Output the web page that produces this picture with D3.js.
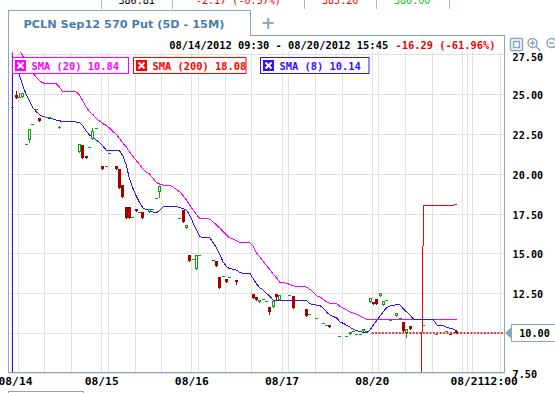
<!DOCTYPE html>
<html>
<head>
<meta charset="utf-8">
<script src="https://cdn.jsdelivr.net/npm/d3@7"></script>
<style>
  html, body { margin: 0; padding: 0; background: #fff; }
  svg { display: block; }
</style>
</head>
<body>
<div id="chart"></div>
<script>
/* Data */
/* ==== */

var quoteCells = ["386.81", "-2.17 (-0.57%)", "385.20", "386.00"];
var tabTitle = "PCLN Sep12 570 Put (5D - 15M)";
var rangeText = "08/14/2012 09:30 - 08/20/2012 15:45";
var changeText = "-16.29 (-61.96%)";

var dayLabels = ["08/14", "08/15", "08/16", "08/17", "08/20"];
var gridTimes = ["09:30", "10:00", "12:00", "14:00"];
var futureTicks = [[135, ""], [136.5, "08/21"], [138, ""], [146.5, "12:00"]];
var priceTicks = [27.5, 25, 22.5, 20, 17.5, 15, 12.5, 10, 7.5];
var lastPrice = 10.00;

var legendNames = ["SMA (20)", "SMA (200)", "SMA (8)"];
var legendValues = [10.84, 18.08, 10.14];

// 15 minute bars: [slot, open, high, low, close]
var candles = [
  [0, 24.17, 24.17, 24.17, 24.17], [1, 24.94, 25.21, 24.77, 24.77], [2, 24.79, 25.05, 24.79, 24.79],
  [3, 24.79, 25.05, 24.79, 25.05], [4, 21.85, 21.85, 21.85, 21.85], [5, 22.12, 22.81, 21.97, 22.81],
  [6, 23.14, 23.14, 23.14, 23.14], [7, 24.06, 24.06, 24.06, 24.06], [8, 23.52, 23.52, 23.33, 23.33],
  [10, 23.56, 23.56, 23.56, 23.56], [11, 23.56, 23.56, 23.56, 23.56], [14, 22.90, 23.00, 22.90, 22.95],
  [20, 21.34, 21.87, 21.34, 21.87], [21, 21.80, 21.80, 20.97, 20.97], [22, 21.09, 21.09, 20.97, 20.97],
  [23, 21.68, 21.68, 21.68, 21.68], [24, 22.16, 22.89, 22.16, 22.68], [25, 22.89, 22.89, 22.89, 22.89],
  [27, 20.48, 20.48, 20.31, 20.31], [28, 20.48, 20.48, 20.48, 20.48], [29, 21.28, 21.28, 21.28, 21.28],
  [31, 20.48, 20.48, 20.31, 20.31], [32, 20.30, 20.30, 19.10, 19.10], [33, 19.29, 19.29, 18.56, 18.56],
  [34, 17.91, 17.91, 17.22, 17.22], [35, 17.91, 17.91, 17.22, 17.22], [36, 17.28, 17.28, 17.28, 17.28],
  [37, 17.78, 17.78, 17.66, 17.66], [38, 17.59, 17.59, 17.59, 17.59], [39, 17.59, 17.59, 17.22, 17.22],
  [41, 17.59, 17.78, 17.59, 17.78], [42, 17.78, 17.78, 17.78, 17.78], [43, 18.47, 18.47, 18.47, 18.47],
  [44, 18.85, 19.23, 18.54, 19.23], [50, 17.22, 17.22, 17.22, 17.22], [51, 17.72, 17.72, 16.96, 16.96],
  [52, 16.57, 16.77, 16.57, 16.77], [53, 14.89, 14.89, 14.52, 14.52], [54, 14.62, 14.62, 14.62, 14.62],
  [55, 14.03, 14.89, 14.03, 14.89], [56, 14.89, 14.89, 14.89, 14.89], [60, 14.60, 14.60, 14.56, 14.56],
  [61, 14.52, 14.52, 14.20, 14.20], [62, 13.51, 13.51, 12.82, 12.82], [63, 13.55, 13.55, 13.55, 13.55],
  [64, 13.39, 13.39, 13.20, 13.20], [65, 13.51, 13.51, 13.51, 13.51], [67, 13.32, 13.32, 13.10, 13.20],
  [72, 12.44, 12.44, 12.19, 12.19], [73, 12.25, 12.25, 12.07, 12.07], [74, 11.94, 12.07, 11.94, 12.07],
  [75, 12.13, 12.13, 12.13, 12.13], [76, 12.00, 12.00, 12.00, 12.00], [77, 11.63, 11.63, 11.19, 11.31],
  [78, 11.63, 12.00, 11.63, 12.00], [79, 12.44, 12.44, 12.13, 12.25], [80, 12.07, 12.38, 12.07, 12.38],
  [83, 12.38, 12.38, 12.38, 12.38], [84, 12.32, 12.32, 11.56, 11.56], [88, 11.49, 11.49, 11.06, 11.06],
  [89, 11.19, 11.19, 11.19, 11.19], [91, 10.94, 10.94, 10.94, 10.94], [93, 10.62, 10.62, 10.62, 10.62],
  [94, 10.50, 10.50, 10.50, 10.50], [95, 10.50, 10.50, 10.37, 10.37], [98, 9.80, 9.80, 9.80, 9.80],
  [100, 9.80, 9.80, 9.80, 9.80], [101, 9.93, 10.06, 9.93, 10.06], [102, 10.12, 10.12, 10.12, 10.12],
  [103, 9.93, 9.93, 9.93, 9.93], [104, 9.93, 9.93, 9.93, 9.93], [105, 10.12, 10.25, 10.12, 10.25],
  [106, 10.12, 10.12, 10.12, 10.12], [107, 11.94, 12.19, 11.94, 12.19], [108, 11.94, 11.94, 11.81, 11.81],
  [109, 12.13, 12.13, 11.81, 11.81], [110, 12.31, 12.50, 12.31, 12.50], [111, 11.75, 12.00, 11.75, 12.00],
  [112, 12.07, 12.07, 12.07, 12.07], [113, 10.81, 10.81, 10.81, 10.81], [115, 11.06, 11.25, 11.06, 11.25],
  [116, 10.94, 10.94, 10.94, 10.94], [117, 10.69, 10.69, 10.12, 10.12], [118, 10.00, 10.25, 9.74, 10.25],
  [119, 10.44, 10.44, 10.25, 10.25], [123, 10.50, 10.50, 10.50, 10.50], [127, 9.93, 9.93, 9.93, 9.93],
  [130, 10.12, 10.12, 10.12, 10.12], [131, 9.95, 9.95, 9.91, 9.91], [133, 10.12, 10.12, 10.00, 10.00]
];

// moving averages: [slot, value]
var sma20 = [
  [0, 0], [0, 28.6], [1, 28.2], [2, 27.8], [3, 27.4], [4, 27.0], [5, 26.64], [6, 26.33], [7, 26.08],
  [8, 25.84], [9, 25.71], [10, 25.65], [13, 25.65], [14, 25.45], [15, 25.14], [19, 25.14], [20, 24.95],
  [21, 24.57], [22, 24.19], [23, 23.91], [24, 23.72], [25, 23.47], [26, 23.31], [27, 23.15], [28, 23.03],
  [29, 22.87], [30, 22.66], [31, 22.49], [32, 22.21], [33, 21.93], [34, 21.68], [35, 21.36], [36, 21.08],
  [37, 20.83], [38, 20.58], [39, 20.30], [40, 20.11], [41, 19.98], [42, 19.73], [43, 19.45], [44, 19.35],
  [45, 19.29], [47, 19.27], [48, 19.16], [49, 19.01], [50, 18.87], [51, 18.63], [52, 18.35], [53, 18.03],
  [54, 17.72], [55, 17.44], [56, 17.19], [59, 17.15], [60, 16.97], [61, 16.78], [62, 16.59], [63, 16.37],
  [64, 16.15], [65, 15.96], [66, 15.89], [67, 15.80], [68, 15.68], [71, 15.67], [72, 15.43], [73, 15.02],
  [74, 14.77], [75, 14.49], [76, 14.23], [77, 13.98], [78, 13.70], [79, 13.45], [80, 13.17], [82, 13.12],
  [83, 13.04], [84, 12.95], [88, 12.88], [89, 12.73], [90, 12.57], [91, 12.32], [92, 12.27], [93, 12.10],
  [94, 11.96], [95, 11.86], [97, 11.85], [98, 11.66], [99, 11.56], [100, 11.44], [101, 11.31], [102, 11.25],
  [103, 11.16], [104, 11.06], [105, 10.97], [106, 10.85], [133, 10.84]
];

var sma200 = [[122, 0], [123, 18.02], [132, 18.02], [133, 18.08]];

var sma8 = [
  [0, 0], [0, 27.4], [1, 26.77], [2, 26.20], [3, 25.54], [4, 25.00], [5, 24.57], [6, 24.16], [7, 23.91],
  [8, 23.72], [9, 23.60], [10, 23.53], [11, 23.47], [12, 23.44], [13, 23.37], [14, 23.34], [15, 23.25],
  [19, 23.25], [20, 23.22], [21, 23.00], [22, 22.68], [23, 22.43], [24, 22.27], [25, 22.12], [26, 21.96],
  [27, 21.74], [28, 21.49], [29, 21.43], [32, 21.43], [33, 21.13], [34, 20.55], [35, 19.67], [36, 19.08],
  [37, 18.60], [38, 18.18], [39, 17.86], [40, 17.74], [41, 17.72], [42, 17.59], [43, 17.55], [44, 17.68],
  [45, 17.91], [46, 17.93], [49, 17.93], [50, 17.89], [51, 17.80], [52, 17.72], [53, 17.41], [54, 16.92],
  [55, 16.46], [56, 16.04], [57, 16.00], [59, 16.00], [60, 15.67], [61, 15.35], [62, 14.95], [63, 14.45],
  [64, 14.17], [65, 14.03], [66, 14.00], [67, 13.95], [68, 13.80], [69, 13.75], [71, 13.75], [72, 13.42],
  [73, 13.07], [74, 12.84], [75, 12.70], [76, 12.49], [77, 12.29], [78, 12.07], [79, 12.02], [88, 12.02],
  [89, 11.83], [90, 11.78], [91, 11.75], [92, 11.72], [93, 11.56], [94, 11.31], [95, 11.12], [96, 11.03],
  [97, 10.94], [98, 10.68], [99, 10.60], [100, 10.47], [101, 10.36], [102, 10.23], [103, 10.15], [104, 10.08],
  [105, 10.04], [106, 10.01], [107, 10.18], [108, 10.50], [109, 10.78], [110, 11.06], [111, 11.34],
  [112, 11.60], [113, 11.69], [114, 11.72], [115, 11.78], [116, 11.75], [117, 11.50], [118, 11.31],
  [119, 11.12], [120, 10.87], [121, 10.85], [125, 10.83], [126, 10.81], [127, 10.50], [128, 10.46],
  [129, 10.45], [130, 10.34], [131, 10.28], [132, 10.23], [133, 10.14]
];


/* Setup */
/* ===== */

var width = 555,
    height = 393,
    mono = "'DejaVu Sans Mono', monospace",
    frame = '#87a7c0',
    gridColor = '#e0e0e0',
    upColor = '#0ea00e',
    downColor = '#a30000',
    smaColors = ['#ff00ff', '#ff0000', '#3010ff'];

var plot = {left: 8.5, right: 504.5, top: 52, bottom: 372.7};
var slotsPerDay = 27;

var svg = d3.select('#chart').append('svg')
    .attr('width', width)
    .attr('height', height)
    .style('font-family', mono);

// one slot = one 15 minute bar
var x = d3.scaleLinear()
    .domain([0, 148])
    .range([11, 11 + 148 * 3.34]);

var y = d3.scaleLinear()
    .domain([7.5, 27.5])
    .range([372.7, 54.3]);

function slotOf(day, time) {
  var p = time.split(':');
  return day * slotsPerDay + ((+p[0] * 60 + +p[1]) - 570) / 15;
}

var svgDefs = svg.append('defs');
svgDefs.append('clipPath').attr('id', 'clip')
  .append('rect')
    .attr('x', plot.left + 0.5)
    .attr('y', plot.top)
    .attr('width', plot.right - plot.left - 0.5)
    .attr('height', plot.bottom - plot.top);


/* Grid */
/* ==== */

var gridSlots = [];
dayLabels.forEach(function(d, i) {
  gridTimes.forEach(function(t) { gridSlots.push(slotOf(i, t)); });
});
futureTicks.forEach(function(t) { gridSlots.push(t[0]); });

var grid = svg.append('g').attr('shape-rendering', 'crispEdges');

grid.selectAll('.vgrid')
  .data(gridSlots)
  .enter().append('line')
    .attr('x1', function(d) { return Math.round(x(d)) + 0.5; })
    .attr('x2', function(d) { return Math.round(x(d)) + 0.5; })
    .attr('y1', plot.top)
    .attr('y2', plot.bottom)
    .attr('stroke', gridColor);

grid.selectAll('.hgrid')
  .data(priceTicks)
  .enter().append('line')
    .attr('x1', plot.left)
    .attr('x2', plot.right)
    .attr('y1', function(d) { return Math.round(y(d)) + 0.5; })
    .attr('y2', function(d) { return Math.round(y(d)) + 0.5; })
    .attr('stroke', gridColor);


/* Moving averages and candles */
/* =========================== */

var chart = svg.append('g').attr('clip-path', 'url(#clip)');

var line = d3.line()
    .x(function(d) { return x(d[0] + 0.5); })
    .y(function(d) { return y(d[1]); });

[sma20, sma200, sma8].forEach(function(series, i) {
  chart.append('path')
    .datum(series)
    .attr('d', line)
    .attr('fill', 'none')
    .attr('stroke', smaColors[i])
    .attr('stroke-width', 1)
    .attr('shape-rendering', 'crispEdges');
});

var bars = chart.append('g').attr('shape-rendering', 'crispEdges');

candles.forEach(function(c) {
  var px = Math.round(x(c[0] + 0.5) - 1.5),
      yo = Math.round(y(c[1])),
      yh = Math.round(y(c[2])),
      yl = Math.round(y(c[3])),
      yc = Math.round(y(c[4])),
      up = c[4] >= c[1],
      col = up ? upColor : downColor;

  if (yl - yh > 0) {
    bars.append('line')
      .attr('x1', px + 1.5).attr('x2', px + 1.5)
      .attr('y1', yh).attr('y2', yl + 1)
      .attr('stroke', col);
  }

  if (up && yo - yc >= 3) {
    bars.append('rect')
      .attr('x', px + 0.5).attr('y', yc + 0.5)
      .attr('width', 2).attr('height', yo - yc - 1)
      .attr('fill', '#fff')
      .attr('stroke', col);
  } else {
    var top = Math.min(yo, yc);
    bars.append('rect')
      .attr('x', px).attr('y', top)
      .attr('width', 3).attr('height', Math.max(1, Math.abs(yc - yo)))
      .attr('fill', col);
  }
});

// last price
svg.append('line')
  .attr('x1', x(108)).attr('x2', plot.right)
  .attr('y1', y(lastPrice)).attr('y2', y(lastPrice))
  .attr('stroke', '#cc0000')
  .attr('stroke-width', 1.5)
  .attr('stroke-dasharray', '2,1.4');


/* Legend */
/* ====== */

var legendBoxes = [[12.5, 116], [133.5, 112.5], [260.5, 108.5]];

legendNames.forEach(function(name, i) {
  var g = svg.append('g')
      .attr('transform', 'translate(' + legendBoxes[i][0] + ',57.5)');
  g.append('rect')
    .attr('width', legendBoxes[i][1]).attr('height', 16)
    .attr('fill', '#fff')
    .attr('stroke', smaColors[i]);
  g.append('rect')
    .attr('x', 2.5).attr('y', 2.5)
    .attr('width', 11).attr('height', 11)
    .attr('fill', smaColors[i]);
  g.append('path')
    .attr('d', 'M5,5 L11,11 M11,5 L5,11')
    .attr('stroke', '#fff')
    .attr('stroke-width', 2);
  g.append('text')
    .attr('x', 19).attr('y', 12)
    .attr('font-size', '10.4px')
    .attr('font-weight', 'bold')
    .attr('fill', smaColors[i])
    .text(name + ' ' + legendValues[i].toFixed(2));
});


/* Frame and axes */
/* ============== */

svg.append('path')
  .attr('d', 'M8.5,' + plot.bottom + ' V10.5 H250.5 V35.5 H504.5 V' + plot.bottom + ' H8.5')
  .attr('fill', 'none')
  .attr('stroke', frame)
  .attr('shape-rendering', 'crispEdges');

// the last price tag stands in for the 10.00 label
var yAxis = svg.append('g')
    .attr('transform', 'translate(' + plot.right + ',0)')
    .call(d3.axisRight(y)
      .tickValues(priceTicks.filter(function(d) { return d !== lastPrice; }))
      .tickFormat(d3.format('.2f'))
      .tickSize(0)
      .tickPadding(8));

yAxis.select('.domain').remove();
yAxis.attr('font-family', mono).attr('font-size', '10.2px').attr('font-weight', 'bold');
yAxis.selectAll('text')
  .attr('fill', '#000')
  .attr('dy', function(d) { return d === 27.5 ? '0.62em' : '0.44em'; });

var xTickSlots = dayLabels.map(function(d, i) { return slotOf(i, '09:30'); })
    .concat(futureTicks.filter(function(t) { return t[1]; }).map(function(t) { return t[0]; }));
var xTickLabels = dayLabels.concat(futureTicks.filter(function(t) { return t[1]; }).map(function(t) { return t[1]; }));

var xAxis = svg.append('g')
    .attr('transform', 'translate(0,' + plot.bottom + ')')
    .call(d3.axisBottom(x)
      .tickValues(xTickSlots)
      .tickFormat(function(d, i) { return xTickLabels[i]; })
      .tickSize(0)
      .tickPadding(4.3));

xAxis.select('.domain').remove();
xAxis.attr('font-family', mono).attr('font-size', '11.3px').attr('font-weight', 'bold');
xAxis.selectAll('text')
  .attr('fill', '#000')
  .attr('x', function(d) { return Math.max(0, 15 - x(d)); });

// navigator stub
svg.append('path')
  .attr('d', 'M8.5,393 V391.5 H83.5 V393')
  .attr('fill', 'none')
  .attr('stroke', frame)
  .attr('shape-rendering', 'crispEdges');

// last price tag
var tag = svg.append('g')
    .attr('transform', 'translate(505,' + Math.round(y(lastPrice)) + ')');
tag.append('rect')
  .attr('x', 6.5).attr('y', -8.5)
  .attr('width', 47).attr('height', 17)
  .attr('fill', '#fff')
  .attr('stroke', frame)
  .attr('shape-rendering', 'crispEdges');
tag.append('path')
  .attr('d', 'M0,0 L7,-6.5 L7,6.5 Z')
  .attr('fill', frame);
tag.append('text')
  .attr('x', 29.5).attr('y', 4)
  .attr('text-anchor', 'middle')
  .attr('font-size', '10.2px')
  .attr('font-weight', 'bold')
  .text(lastPrice.toFixed(2));


/* Header */
/* ====== */

var cellEdges = [100.9, 172.4, 304.4, 375.9, 448.5];
var quoteColors = ['#000', '#ee0000', '#ee0000', '#22bb22'];

svg.selectAll('.cellEdge')
  .data(cellEdges)
  .enter().append('line')
    .attr('x1', function(d) { return Math.round(d) + 0.5; })
    .attr('x2', function(d) { return Math.round(d) + 0.5; })
    .attr('y1', 0).attr('y2', 9)
    .attr('stroke', '#a9bccb');

svg.selectAll('.quote')
  .data(quoteCells)
  .enter().append('text')
    .attr('x', function(d, i) { return (cellEdges[i] + cellEdges[i + 1]) / 2; })
    .attr('y', 4.2)
    .attr('text-anchor', 'middle')
    .attr('font-size', '10.1px')
    .attr('fill', function(d, i) { return quoteColors[i]; })
    .text(function(d) { return d; });

svg.append('text')
  .attr('x', 23.4).attr('y', 27.6)
  .attr('font-family', "'DejaVu Sans', sans-serif")
  .attr('font-size', '11.3px')
  .attr('font-weight', 'bold')
  .attr('fill', '#4a7db0')
  .text(tabTitle);

svg.append('text')
  .attr('x', 268).attr('y', 29)
  .attr('text-anchor', 'middle')
  .attr('font-family', "'DejaVu Sans', sans-serif")
  .attr('font-size', '17px')
  .attr('font-weight', 'bold')
  .attr('fill', '#8aa6bd')
  .text('+');

svg.append('text')
  .attr('x', 169.2).attr('y', 48.5)
  .attr('font-size', '10.4px')
  .attr('font-weight', 'bold')
  .attr('fill', '#000')
  .text(rangeText);

svg.append('text')
  .attr('x', 495.6).attr('y', 48.5)
  .attr('text-anchor', 'end')
  .attr('font-size', '10.4px')
  .attr('font-weight', 'bold')
  .attr('fill', '#ee0000')
  .text(changeText);

// toolbar icons
var icons = svg.append('g')
    .attr('fill', 'none')
    .attr('stroke', '#8aa6bd')
    .attr('stroke-width', 1.5);
icons.append('rect').attr('x', 510.5).attr('y', 38.5).attr('width', 12).attr('height', 12).attr('rx', 1.5);
icons.append('rect').attr('x', 513.5).attr('y', 41.5).attr('width', 6).attr('height', 6);
icons.append('circle').attr('cx', 532.5).attr('cy', 43).attr('r', 4.5);
icons.append('path').attr('d', 'M530,43 H535 M532.5,40.5 V45.5 M536,46.5 L540.5,51').attr('stroke-width', 1.6);
icons.append('circle').attr('cx', 551.5).attr('cy', 43).attr('r', 4.5);
icons.append('path').attr('d', 'M549,43 H554 M555,46.5 L559.5,51').attr('stroke-width', 1.6);

</script>
</body>
</html>
